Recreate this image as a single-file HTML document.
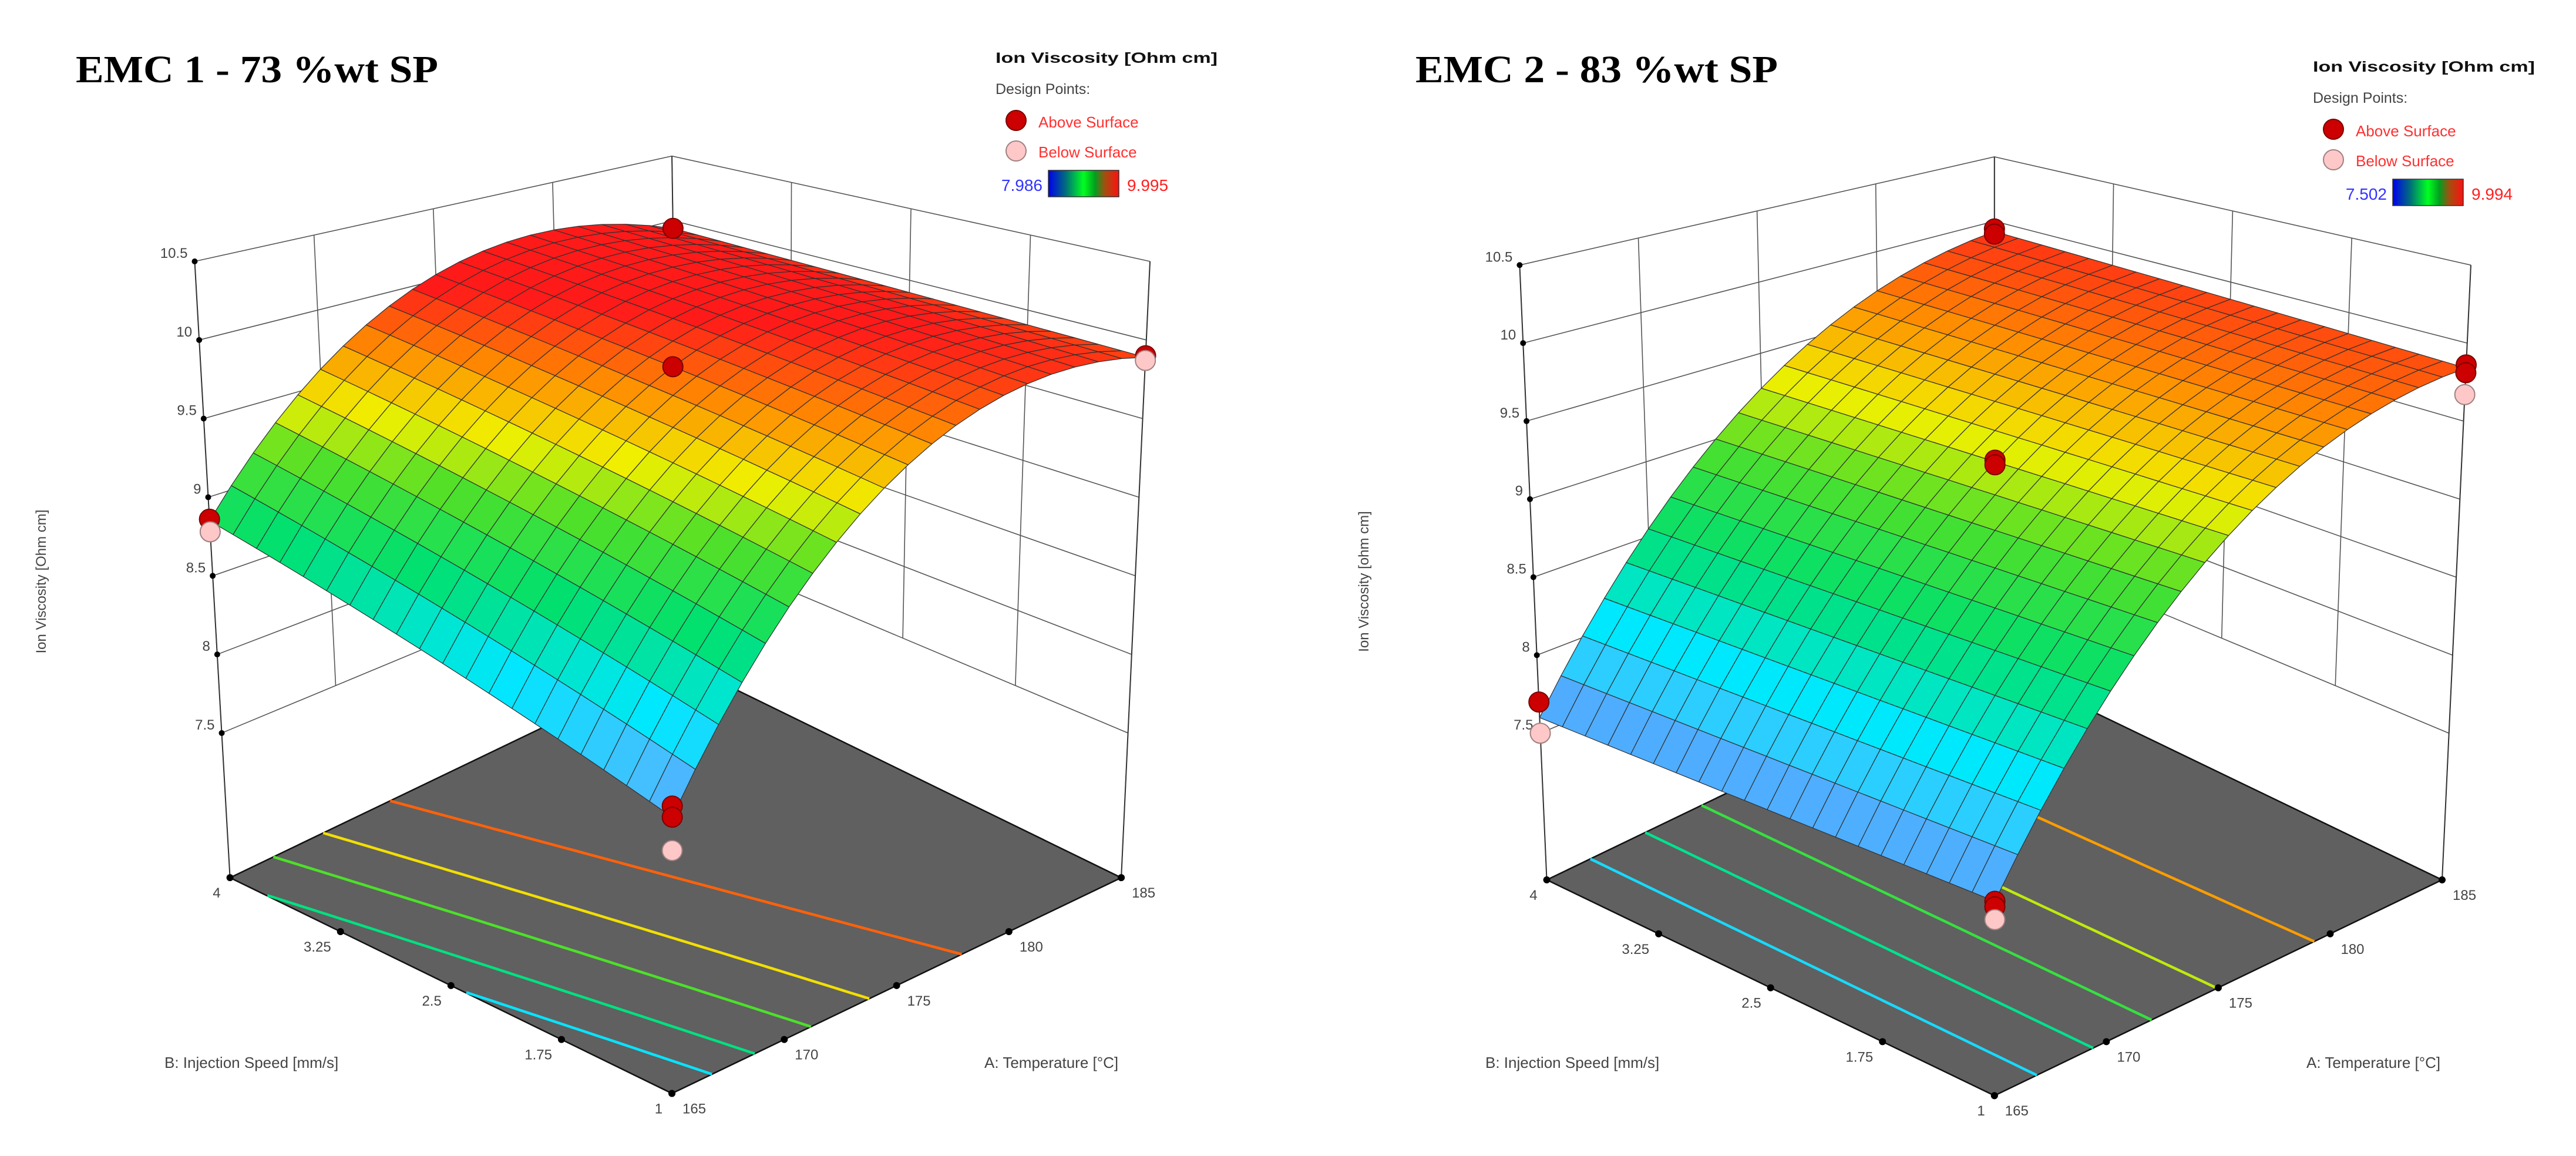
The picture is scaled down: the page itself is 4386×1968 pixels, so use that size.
<!DOCTYPE html>
<html><head><meta charset="utf-8"><title>Ion Viscosity response surfaces</title>
<style>
html,body{margin:0;padding:0;background:#fff;}
svg{display:block;}
text{font-family:"Liberation Sans",sans-serif;}
</style></head>
<body>
<svg id="root" xmlns="http://www.w3.org/2000/svg" width="4386" height="1968" viewBox="0 0 4386 1968">
<defs>
<linearGradient id="legGrad" x1="0" x2="1" y1="0" y2="0">
<stop offset="0" stop-color="#0000ee"/><stop offset="0.25" stop-color="#00707a"/><stop offset="0.5" stop-color="#00ff20"/><stop offset="0.66" stop-color="#00a020"/><stop offset="0.8" stop-color="#a05010"/><stop offset="1" stop-color="#ff1010"/>
</linearGradient>
</defs>
</svg>
<script>
// ---- data ----
const aTicks = [165, 170, 175, 180, 185];
const bTicks = [1, 1.75, 2.5, 3.25, 4];
const bTickLabels = ['1', '1.75', '2.5', '3.25', '4'];
const zTicks = [7.5, 8, 8.5, 9, 9.5, 10, 10.5];
const zTickLabels = ['7.5', '8', '8.5', '9', '9.5', '10', '10.5'];
const gridA = [165, 175, 185];
const gridB = [1, 2.5, 4];
// rows: B = 1, 2.5, 4 ; cols: A = 165, 175, 185
const emc1Grid = [[8.07, 9.62, 9.89], [8.46, 9.83, 9.915], [8.85, 10.04, 9.94]];
const emc2Grid = [[7.62, 9.225, 9.84], [7.61, 9.24, 9.88], [7.60, 9.255, 9.92]];
const emc1PtA = [165, 165, 165, 165, 165, 185, 175, 185, 185];
const emc1PtB = [1, 1, 1, 4, 4, 4, 2.5, 1, 1];
const emc1PtZ = [8.13, 8.07, 7.89, 8.86, 8.78, 9.94, 9.83, 9.90, 9.87];
const emc1PtAbove = [1, 1, 0, 1, 0, 1, 1, 1, 0];
const emc2PtA = [165, 165, 165, 165, 165, 185, 185, 175, 175, 185, 185, 185];
const emc2PtB = [1, 1, 1, 4, 4, 4, 4, 2.5, 2.5, 1, 1, 1];
const emc2PtZ = [7.62, 7.59, 7.52, 7.70, 7.50, 9.94, 9.90, 9.25, 9.22, 9.86, 9.81, 9.67];
const emc2PtAbove = [1, 1, 0, 1, 0, 1, 1, 1, 1, 1, 1, 0];
const emc1Contours = [8.44, 8.79, 9.18, 9.50, 9.83];
const emc2Contours = [8.0, 8.45, 8.85, 9.22, 9.61];
const emc1Range = [7.986, 9.995];
const emc2Range = [7.502, 9.994];
const emc1RangeLabels = ['7.986', '9.995'];
const emc2RangeLabels = ['7.502', '9.994'];

// ---- geometry (positions, not data) ----
const SX = 2193 / 1568, SY = 1968 / 1570;
const geo1 = {ox: 0, zf: 6.58, F: [818, 1485], R: [1365, 1192], L: [280, 1192], K: [827, 899],
  Ft: [819, 498], Rt: [1400, 355], Lt: [237, 355], Kt: [818, 212]};
const geo2 = {ox: 2193, zf: 6.56, F: [860, 1488], R: [1405, 1195], L: [315, 1195], K: [860, 902],
  Ft: [862, 507], Rt: [1440, 360], Lt: [282, 360], Kt: [860, 213]};
const ZTOP = 10.5;

const NS = 'http://www.w3.org/2000/svg';
const root = document.getElementById('root');
function mk(tag, attrs, parent) {
  const el = document.createElementNS(NS, tag);
  for (const k in attrs) el.setAttribute(k, attrs[k]);
  parent.appendChild(el);
  return el;
}
function bil(g, k, u, v) {
  const F = g[k[0]], R = g[k[1]], L = g[k[2]], K = g[k[3]];
  return [F[0]*(1-u)*(1-v) + R[0]*u*(1-v) + L[0]*(1-u)*v + K[0]*u*v,
          F[1]*(1-u)*(1-v) + R[1]*u*(1-v) + L[1]*(1-u)*v + K[1]*u*v];
}
function proj(g, A, B, z) {
  const u = (A - 165) / 20, v = (B - 1) / 3;
  const f = bil(g, ['F','R','L','K'], u, v), t = bil(g, ['Ft','Rt','Lt','Kt'], u, v);
  const s = (z - g.zf) / (ZTOP - g.zf);
  const zx = f[0] + (t[0]-f[0])*s, zy = f[1] + (t[1]-f[1])*s;
  return [g.ox + zx * SX, zy * SY];
}
function lag(s) { return [s*(s-1)/2, 1 - s*s, s*(s+1)/2]; }
function surf(grid, A, B) {
  const la = lag((A - 175) / 10), lb = lag((B - 2.5) / 1.5);
  let z = 0;
  for (let i = 0; i < 3; i++) for (let j = 0; j < 3; j++) z += lb[i] * la[j] * grid[i][j];
  return z;
}
const stops = [[0,[100,135,255]],[0.12,[70,190,255]],[0.24,[0,232,255]],[0.42,[0,224,112]],[0.6,[80,224,40]],[0.73,[240,240,0]],[0.87,[255,140,0]],[1,[255,26,26]]];
function cmap(t) {
  t = Math.max(0, Math.min(1, t));
  for (let i = 1; i < stops.length; i++) {
    if (t <= stops[i][0]) {
      const a = stops[i-1], b = stops[i], f = (t - a[0]) / (b[0] - a[0]);
      const c = a[1].map((x, k) => Math.round(x + (b[1][k] - x) * f));
      return 'rgb(' + c.join(',') + ')';
    }
  }
  return 'rgb(255,26,26)';
}
function pts(arr) { return arr.map(p => p[0].toFixed(1) + ',' + p[1].toFixed(1)).join(' '); }

function drawChart(cfg) {
  const g = cfg.geo;
  const grp = mk('g', {}, root);
  
  

  const title = mk('text', {x: g.ox + cfg.titleX, y: 140, 'font-size': 66, 'font-weight': 'bold', fill: '#000', style: 'font-family:"Liberation Serif",serif', textLength: 617, lengthAdjust: 'spacingAndGlyphs'}, grp);
  title.textContent = cfg.title;
  
  

  const walls = mk('g', {stroke: '#555', 'stroke-width': 1.6, fill: 'none'}, grp);
  
  
  aTicks.forEach((a, i) => {
    const p0 = proj(g, a, 4, i === 0 ? g.zf : 7.5), p1 = proj(g, a, 4, ZTOP);
    const ln = mk('line', {x1: p0[0], y1: p0[1], x2: p1[0], y2: p1[1]}, walls);
    
    
  });
  bTicks.forEach((b, i) => {
    const p0 = proj(g, 185, b, i === 0 ? g.zf : 7.5), p1 = proj(g, 185, b, ZTOP);
    const ln = mk('line', {x1: p0[0], y1: p0[1], x2: p1[0], y2: p1[1]}, walls);
    
    
  });
  zTicks.forEach(z => {
    const pl = mk('polyline', {points: pts([proj(g, 165, 4, z), proj(g, 185, 4, z), proj(g, 185, 1, z)])}, walls);
    
    
  });

  const floor = mk('polygon', {points: pts([proj(g,165,1,g.zf), proj(g,185,1,g.zf), proj(g,185,4,g.zf), proj(g,165,4,g.zf)]), fill: '#606060', stroke: '#111', 'stroke-width': 2.5}, grp);
  
  

  cfg.contours.forEach(lv => {
    const line = [];
    for (let k = 0; k <= 60; k++) {
      const B = 1 + 3 * k / 60;
      let prev = surf(cfg.grid, 165, B) - lv, found = null;
      for (let s = 1; s <= 300; s++) {
        const A = 165 + 20 * s / 300, cur = surf(cfg.grid, A, B) - lv;
        if (prev * cur <= 0) { const Ap = A - 20/300; found = Ap + (20/300) * (prev / (prev - cur)); break; }
        prev = cur;
      }
      if (found !== null) line.push(proj(g, found, B, g.zf));
    }
    if (line.length > 1) {
      const c = mk('polyline', {points: pts(line), fill: 'none', stroke: cmap((lv - cfg.range[0]) / (cfg.range[1] - cfg.range[0])), 'stroke-width': 4.5}, grp);
      
      
    }
  });

  [[165,4],[185,1],[185,4]].forEach(c => {
    const p0 = proj(g, c[0], c[1], g.zf), p1 = proj(g, c[0], c[1], ZTOP);
    const ln = mk('line', {x1: p0[0], y1: p0[1], x2: p1[0], y2: p1[1], stroke: '#333', 'stroke-width': 2}, grp);
    
    
  });

  const N = 20, quads = [];
  for (let i = 0; i < N; i++) for (let j = 0; j < N; j++) {
    const A0 = 165 + 20*i/N, A1 = 165 + 20*(i+1)/N, B0 = 1 + 3*j/N, B1 = 1 + 3*(j+1)/N;
    const z00 = surf(cfg.grid, A0, B0), z10 = surf(cfg.grid, A1, B0), z11 = surf(cfg.grid, A1, B1), z01 = surf(cfg.grid, A0, B1);
    quads.push({d: (i + j), p: [proj(g,A0,B0,z00), proj(g,A1,B0,z10), proj(g,A1,B1,z11), proj(g,A0,B1,z01)], z: (z00+z10+z11+z01)/4});
  }
  quads.sort((a, b) => b.d - a.d);
  const sg = mk('g', {stroke: '#303030', 'stroke-width': 1.2, 'stroke-linejoin': 'round'}, grp);
  
  
  quads.forEach(q => {
    const poly = mk('polygon', {points: pts(q.p), fill: cmap((q.z - cfg.range[0]) / (cfg.range[1] - cfg.range[0]))}, sg);
    
    
  });

  zTicks.forEach((z, i) => {
    const p = proj(g, 165, 4, z);
    const d = mk('circle', {cx: p[0], cy: p[1], r: 5, fill: '#000'}, grp);
    
    
    const t = mk('text', {x: p[0] - 12, y: p[1] - 6, 'font-size': 24, fill: '#444', 'text-anchor': 'end'}, grp);
    t.textContent = zTickLabels[i];
    
    
  });
  bTicks.forEach((b, i) => {
    const p = proj(g, 165, b, g.zf);
    const d = mk('circle', {cx: p[0], cy: p[1], r: 6, fill: '#000'}, grp);
    
    
    const t = mk('text', {x: p[0] - 16, y: p[1] + 34, 'font-size': 24, fill: '#444', 'text-anchor': 'end'}, grp);
    t.textContent = bTickLabels[i];
    
    
  });
  aTicks.forEach(a => {
    const p = proj(g, a, 1, g.zf);
    const d = mk('circle', {cx: p[0], cy: p[1], r: 6, fill: '#000'}, grp);
    
    
    const t = mk('text', {x: p[0] + 18, y: p[1] + 34, 'font-size': 24, fill: '#444'}, grp);
    t.textContent = String(a);
    
    
  });

  cfg.pA.forEach((a, i) => {
    const p = proj(g, a, cfg.pB[i], cfg.pZ[i]);
    const above = cfg.pAbove[i] === 1;
    const c = mk('circle', {cx: p[0], cy: p[1], r: 17, fill: above ? '#cc0000' : '#ffc8c8', stroke: above ? '#7a0000' : '#a08080', 'stroke-width': 2}, grp);
    
    
  });

  const yt = mk('text', {x: 0, y: 0, 'font-size': 24, fill: '#444', 'text-anchor': 'middle', transform: 'translate(' + (g.ox + cfg.yTitleX) + ',990) rotate(-90)'}, grp);
  yt.textContent = cfg.yTitle;
  
  
  const bt = mk('text', {x: g.ox + cfg.bTitleX, y: 1818, 'font-size': 26, fill: '#444'}, grp);
  bt.textContent = 'B: Injection Speed [mm/s]';
  
  
  const at = mk('text', {x: g.ox + cfg.aTitleX, y: 1818, 'font-size': 26, fill: '#444'}, grp);
  at.textContent = 'A: Temperature [°C]';
  
  

  const lx = cfg.legX, ly = cfg.legY;
  const lg = mk('g', {}, grp);
  
  
  const l1 = mk('text', {x: lx, y: ly, 'font-size': 25, 'font-weight': 'bold', fill: '#111', textLength: 378, lengthAdjust: 'spacingAndGlyphs'}, lg);
  l1.textContent = 'Ion Viscosity  [Ohm cm]';
  
  
  const l2 = mk('text', {x: lx, y: ly + 53, 'font-size': 25, fill: '#444'}, lg);
  l2.textContent = 'Design Points:';
  
  
  const c1 = mk('circle', {cx: lx + 35, cy: ly + 98, r: 17, fill: '#cc0000', stroke: '#7a0000', 'stroke-width': 2}, lg);
  
  
  const t1 = mk('text', {x: lx + 73, y: ly + 110, 'font-size': 26, fill: '#ff3030'}, lg);
  t1.textContent = 'Above Surface';
  
  
  const c2 = mk('circle', {cx: lx + 35, cy: ly + 150, r: 17, fill: '#ffc8c8', stroke: '#a08080', 'stroke-width': 2}, lg);
  
  
  const t2 = mk('text', {x: lx + 73, y: ly + 161, 'font-size': 26, fill: '#ff3030'}, lg);
  t2.textContent = 'Below Surface';
  
  
  const bar = mk('rect', {x: lx + cfg.barDX, y: ly + 183, width: 120, height: 45, fill: 'url(#legGrad)', stroke: '#333', 'stroke-width': 1.5}, lg);
  
  
  const mn = mk('text', {x: lx + cfg.barDX - 10, y: ly + 218, 'font-size': 28, fill: '#3333ff', 'text-anchor': 'end'}, lg);
  mn.textContent = cfg.rangeLabels[0];
  
  
  const mx = mk('text', {x: lx + cfg.barDX + 134, y: ly + 218, 'font-size': 28, fill: '#ff2020'}, lg);
  mx.textContent = cfg.rangeLabels[1];
  
  
}

drawChart({name: 'chart-emc1', geo: geo1, grid: emc1Grid, contours: emc1Contours, range: emc1Range, rangeLabels: emc1RangeLabels,
  pA: emc1PtA, pB: emc1PtB, pZ: emc1PtZ, pAbove: emc1PtAbove, title: 'EMC 1 - 73 %wt SP', titleX: 129,
  yTitle: 'Ion Viscosity [Ohm cm]', yTitleX: 78, bTitleX: 280, aTitleX: 1676, legX: 1695, legY: 107, barDX: 90});
drawChart({name: 'chart-emc2', geo: geo2, grid: emc2Grid, contours: emc2Contours, range: emc2Range, rangeLabels: emc2RangeLabels,
  pA: emc2PtA, pB: emc2PtB, pZ: emc2PtZ, pAbove: emc2PtAbove, title: 'EMC 2 - 83 %wt SP', titleX: 217,
  yTitle: 'Ion Viscosity [ohm cm]', yTitleX: 137, bTitleX: 336, aTitleX: 1734, legX: 3938, legY: 122, barDX: 136});
</script>
</body></html>
